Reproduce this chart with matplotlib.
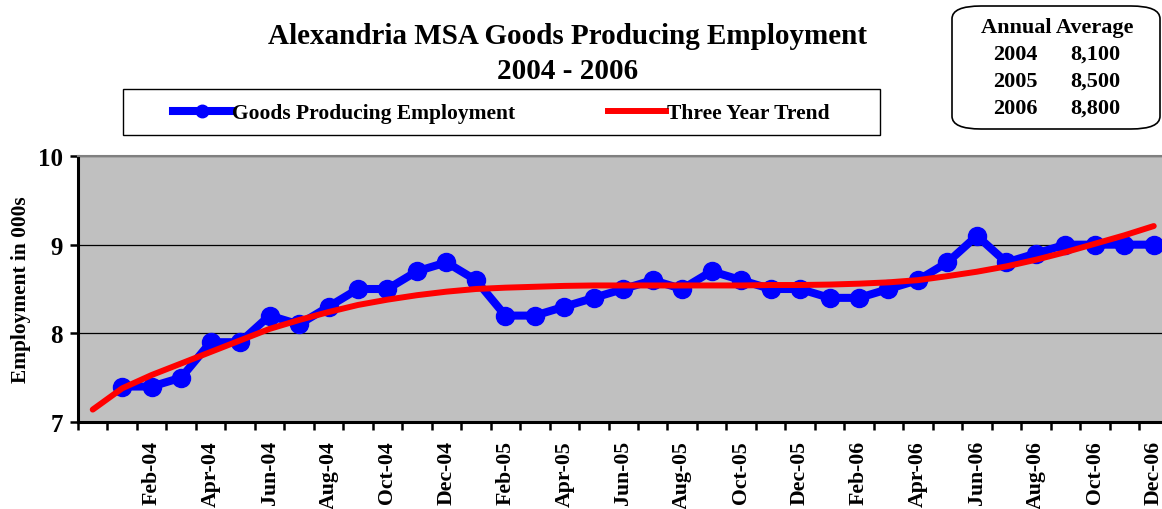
import matplotlib.pyplot as plt
from matplotlib.patches import Rectangle, FancyBboxPatch
from matplotlib.lines import Line2D

# monthly goods producing employment, Jan-04 .. Dec-06 (thousands)
employment = [7.4, 7.4, 7.5, 7.9, 7.9, 8.2, 8.1, 8.3, 8.5, 8.5, 8.7, 8.8,
              8.6, 8.2, 8.2, 8.3, 8.4, 8.5, 8.6, 8.5, 8.7, 8.6, 8.5, 8.5,
              8.4, 8.4, 8.5, 8.6, 8.8, 9.1, 8.8, 8.9, 9.0, 9.0, 9.0, 9.0]
# three year trend, starts one period before Jan-04
trend = [7.14, 7.38, 7.53, 7.66, 7.79, 7.92, 8.05, 8.15, 8.24, 8.32, 8.38,
         8.43, 8.47, 8.50, 8.515, 8.525, 8.535, 8.54, 8.54, 8.54, 8.54,
         8.54, 8.54, 8.545, 8.545, 8.55, 8.56, 8.575, 8.60, 8.645, 8.695,
         8.755, 8.83, 8.915, 9.01, 9.105, 9.21]
tick_labels = ['Feb-04', 'Apr-04', 'Jun-04', 'Aug-04', 'Oct-04', 'Dec-04',
               'Feb-05', 'Apr-05', 'Jun-05', 'Aug-05', 'Oct-05', 'Dec-05',
               'Feb-06', 'Apr-06', 'Jun-06', 'Aug-06', 'Oct-06', 'Dec-06']
annual_years = ['2004', '2005', '2006']
annual_avg = ['8,100', '8,500', '8,800']

plt.rcParams['font.family'] = 'Liberation Serif'
plt.rcParams['font.weight'] = 'bold'

W, H = 1162, 510
fig = plt.figure(figsize=(W / 100, H / 100), dpi=100)
ax = fig.add_axes([78 / W, 1 - 423 / H, 1 - 78 / W, 266 / H])
ax.set_facecolor('#c0c0c0')

emp_x = list(range(1, len(employment) + 1))
trend_x = list(range(len(trend)))
ax.plot(emp_x, employment, color='#0000ff', lw=5.8, marker='o', ms=13,
        zorder=3, solid_capstyle='round')
ax.plot(trend_x, trend, color='#ff0000', lw=4.3, zorder=4,
        solid_capstyle='round')

ax.set_xlim(-0.5, 36.28)
ax.set_ylim(7, 10)
ax.set_yticks([7, 8, 9, 10])
ax.set_yticklabels(['7', '8', '9', '10'], fontsize=18, fontweight='bold')
ax.yaxis.grid(True, color='black', lw=0.9)
ax.set_axisbelow(True)

ax.set_xticks([k - 0.5 for k in range(37)])
ax.set_xticklabels([])
ax.set_xticks(list(range(2, 37, 2)), minor=True)
ax.set_xticklabels(tick_labels, minor=True, rotation=90, fontsize=15.7,
                   fontweight='bold')
ax.tick_params(axis='x', which='major', direction='out', length=6, width=1.8)
ax.tick_params(axis='x', which='minor', length=0, pad=13)
ax.tick_params(axis='y', direction='out', length=6, width=1.8, pad=5)

for s in ['left', 'bottom']:
    ax.spines[s].set_linewidth(2.2)
ax.spines['right'].set_visible(False)
ax.spines['top'].set_color('#808080')
ax.spines['top'].set_linewidth(1.5)

ax.set_ylabel('Employment in 000s', fontsize=15.4, fontweight='bold',
              labelpad=5)

fig.text(568 / W, 1 - 54 / H,
         'Alexandria MSA Goods Producing Employment\n2004 - 2006',
         ha='center', va='center', fontsize=21, fontweight='bold',
         linespacing=1.4)

# legend
fig.patches.append(Rectangle((123 / W, 1 - 136 / H), 757 / W, 46 / H,
                             transform=fig.transFigure, fill=False,
                             edgecolor='black', lw=1.0))
handles = [Line2D([], [], color='#0000ff', lw=5.8, marker='o', ms=9),
           Line2D([], [], color='#ff0000', lw=4.3)]
fig.legend(handles, ['Goods Producing Employment', 'Three Year Trend'],
           loc='center', bbox_to_anchor=(501.5 / W, 1 - 114 / H), ncol=2,
           frameon=False, handlelength=2.7, handletextpad=0.05,
           columnspacing=4.3, prop={'weight': 'bold', 'size': 15.5})

# annual average box
fig.patches.append(FancyBboxPatch((952 / W, 1 - 130 / H), 208 / W, 123 / H,
                                  boxstyle='round,pad=0,rounding_size=0.025',
                                  transform=fig.transFigure, fill=False,
                                  edgecolor='black', lw=1.2))
fig.text(1057 / W, 1 - 28 / H, 'Annual Average', ha='center', va='center',
         fontsize=16, fontweight='bold')
for i, (yr, avg) in enumerate(zip(annual_years, annual_avg)):
    yy = 1 - (55 + 27 * i) / H
    fig.text(1015 / W, yy, yr, ha='center', va='center', fontsize=16,
             fontweight='bold')
    fig.text(1095 / W, yy, avg, ha='center', va='center', fontsize=16,
             fontweight='bold')

fig.savefig('out.png', dpi=100)
